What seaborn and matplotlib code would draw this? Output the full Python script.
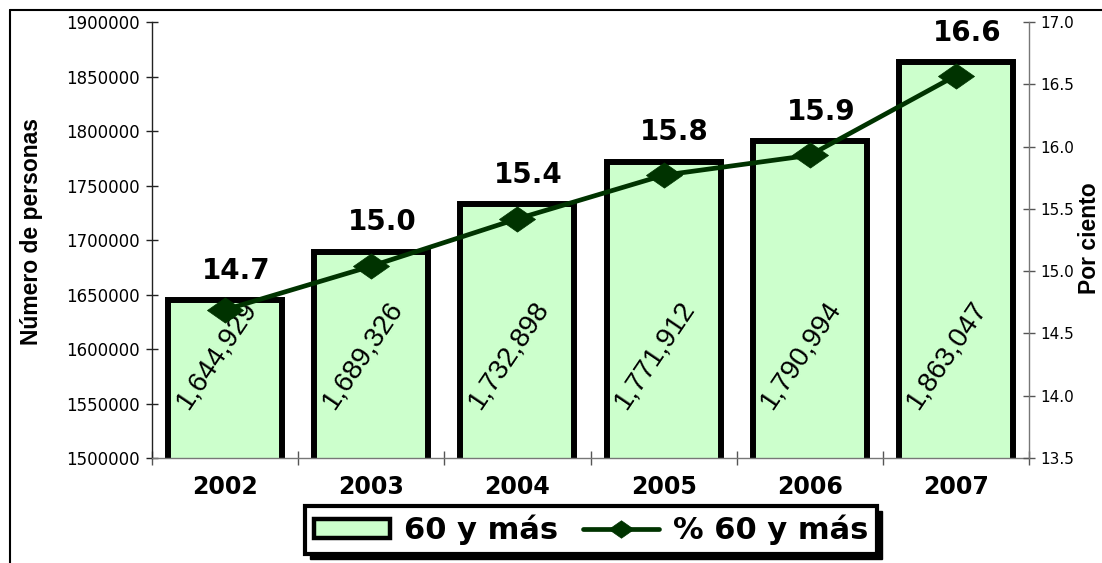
import numpy as np
import pandas as pd
import matplotlib
matplotlib.use("Agg")
import matplotlib.pyplot as plt
import seaborn as sns
from matplotlib.lines import Line2D
from matplotlib.patches import Patch, Rectangle
from matplotlib.path import Path

# ---- data ----
years = ["2002", "2003", "2004", "2005", "2006", "2007"]
persons = [1644929, 1689326, 1732898, 1771912, 1790994, 1863047]
pct = [14.69, 15.04, 15.42, 15.77, 15.93, 16.57]
pct_labels = ["14.7", "15.0", "15.4", "15.8", "15.9", "16.6"]
left_ticks = [1500000, 1550000, 1600000, 1650000, 1700000, 1750000, 1800000, 1850000, 1900000]
right_ticks = [13.5, 14.0, 14.5, 15.0, 15.5, 16.0, 16.5, 17.0]
bar_name = "60 y más"
line_name = "% 60 y más"
left_label = "Número de personas"
right_label = "Por ciento"

BAR_COLOR = "#CCFFCC"
LINE_COLOR = "#003300"

sns.set_theme(style="white")
plt.rcParams['font.family'] = ['DejaVu Sans']
plt.rcParams['text.color'] = 'black'
plt.rcParams['axes.labelcolor'] = 'black'
plt.rcParams['xtick.color'] = 'black'
plt.rcParams['ytick.color'] = 'black'

W, H = 1102, 563
fig = plt.figure(figsize=(W / 100, H / 100), dpi=100)
ax = fig.add_axes([152 / W, 1 - 458 / H, (1029 - 152) / W, 436 / H])

df = pd.DataFrame({"year": years, "persons": persons, "pct": pct})

sns.barplot(data=df, x="year", y="persons", ax=ax, color=BAR_COLOR, saturation=1,
            edgecolor="black", linewidth=4.3, width=0.78, zorder=2)
ax.set_ylim(1500000, 1900000)
ax.set_xlim(-0.5, 5.5)
ax.set_yticks(left_ticks)
ax.set_yticklabels([str(t) for t in left_ticks])
ax.set_xlabel("")
ax.set_ylabel("")

diamond = Path([(-1, 0), (0, 0.7), (1, 0), (0, -0.7), (-1, 0)],
               [Path.MOVETO, Path.LINETO, Path.LINETO, Path.LINETO, Path.CLOSEPOLY])

ax2 = ax.twinx()
sns.pointplot(data=df, x="year", y="pct", ax=ax2, color=LINE_COLOR, marker=diamond,
              markersize=26, markeredgewidth=0.5, linewidth=3.4, errorbar=None)
ax2.set_ylim(13.5, 17.0)
ax2.set_xlim(-0.5, 5.5)
ax2.set_yticks(right_ticks)
ax2.set_yticklabels([f"{t:.1f}" for t in right_ticks])
ax2.set_xlabel("")

# spines
for s in ["top", "right"]:
    ax.spines[s].set_visible(False)
for s in ["top", "left", "bottom"]:
    ax2.spines[s].set_visible(False)
ax.spines["left"].set_color("#222222")
ax.spines["left"].set_linewidth(1)
ax.spines["bottom"].set_color("#777777")
ax.spines["bottom"].set_linewidth(1)
ax2.spines["right"].set_color("#777777")
ax2.spines["right"].set_linewidth(1)

# ticks
ax.tick_params(axis="y", left=True, direction="inout", length=9, width=1,
               color="#222222", labelsize=12, pad=4, labelcolor="black")
ax2.tick_params(axis="y", right=True, direction="inout", length=9, width=1,
                color="#555555", labelsize=11, pad=4, labelcolor="black")
ax.set_xticks(range(len(years)))
ax.set_xticklabels(years, fontsize=17, fontweight="bold")
ax.tick_params(axis="x", which="major", bottom=False, length=0, pad=12, labelcolor="black")
ax.set_xticks(np.arange(-0.5, len(years), 1), minor=True)
ax.tick_params(axis="x", which="minor", bottom=True, direction="inout", length=10,
               width=1, color="#555555")
ax2.tick_params(axis="x", which="both", bottom=False, top=False, labelbottom=False)

# axis labels
ax.set_ylabel(left_label, fontsize=16.5, fontweight="bold", family="Liberation Sans")
ax.yaxis.set_label_coords((32 - 152) / 877, 0.52)
ax.yaxis.label.set_va("center")
ax2.set_ylabel(right_label, fontsize=16.5, fontweight="bold", family="Liberation Sans")
ax2.yaxis.set_label_coords((1089 - 152) / 877, 0.505)
ax2.yaxis.label.set_va("center")
ax2.yaxis.label.set_rotation(90)

# bar value labels (rotated)
for i, v in enumerate(persons):
    ax.text(i - 0.06, 1595000, f"{v:,}", rotation=56, rotation_mode="anchor",
            ha="center", va="center", fontsize=20, family="Liberation Sans",
            color="black", zorder=5)

# percentage labels above bars
for i, (v, lbl) in enumerate(zip(persons, pct_labels)):
    ax.annotate(lbl, xy=(i, v), xytext=(8, 21), textcoords="offset points",
                ha="center", va="center", fontsize=20, fontweight="bold",
                color="black", zorder=6, annotation_clip=False)

# legend
handles = [
    Patch(facecolor=BAR_COLOR, edgecolor="black", linewidth=3.2, label=bar_name),
    Line2D([0], [0], color=LINE_COLOR, lw=3.4, marker=diamond, markersize=18,
           markeredgewidth=0.5, label=line_name),
]
leg = fig.legend(handles=handles, loc="center", bbox_to_anchor=(591 / W, 1 - 530 / H),
                 ncol=2, frameon=True, fancybox=False, edgecolor="black", framealpha=1,
                 prop={"weight": "bold", "size": 22},
                 handlelength=2.5, handleheight=0.6, handletextpad=0.45,
                 columnspacing=0.8, borderpad=0.3)
leg.get_frame().set_linewidth(3)
leg.set_zorder(10)

# black drop shadow behind legend
fig.canvas.draw()
bb = leg.get_window_extent().transformed(fig.transFigure.inverted())
fig.add_artist(Rectangle((bb.x0 + 5 / W, bb.y0 - 5 / H), bb.width, bb.height,
                         transform=fig.transFigure, facecolor="black",
                         edgecolor="black", zorder=9))

# outer frame lines
fig.add_artist(Line2D([10 / W, 1.0], [1 - 10 / H, 1 - 10 / H], color="black", lw=1.5,
                      transform=fig.transFigure))
fig.add_artist(Line2D([10 / W, 10 / W], [0, 1 - 10 / H], color="black", lw=1.5,
                      transform=fig.transFigure))

fig.savefig("out.png", dpi=100)
